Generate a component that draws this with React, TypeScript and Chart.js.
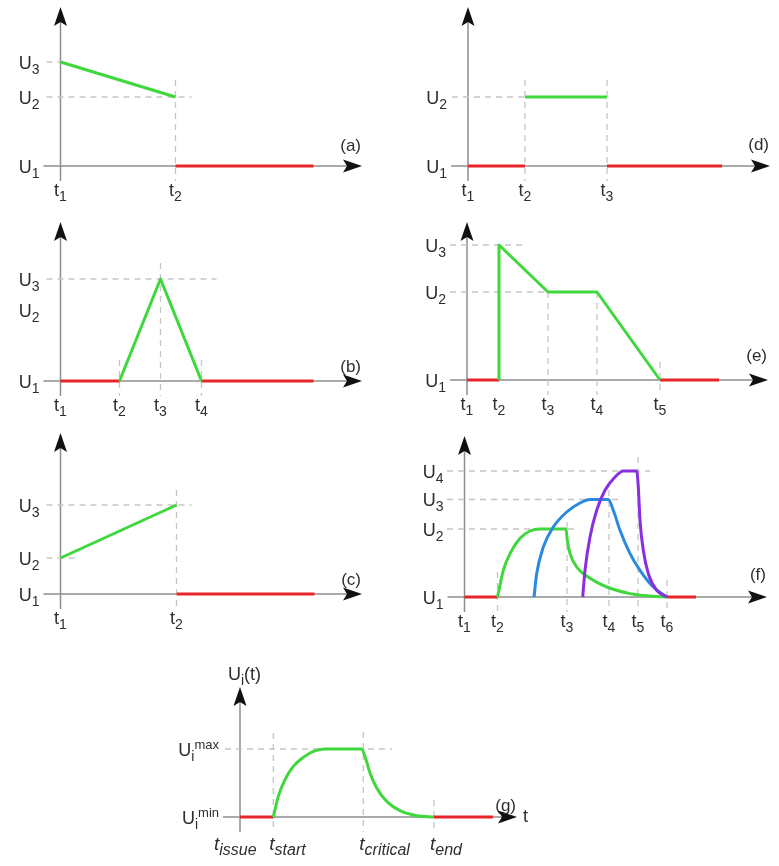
import React, { useEffect, useRef } from 'react';
import { Chart, registerables } from 'chart.js';

Chart.register(...registerables);

type P = [number, number];

// ---------- Panel (a) ----------
const A_TIMES = [0, 115];
const A_TIME_SUBS = ['1', '2'];
const A_LEVELS = [0, 69, 104];
const A_LEVEL_SUBS = ['1', '2', '3'];
const A_GREEN: P[] = [[0, 104], [115, 69]];
const A_RED: P[] = [[115, 0], [253, 0]];

// ---------- Panel (b) ----------
const B_TIMES = [0, 59, 100, 141];
const B_TIME_SUBS = ['1', '2', '3', '4'];
const B_LEVELS = [0, 71, 102];
const B_LEVEL_SUBS = ['1', '2', '3'];
const B_RED1: P[] = [[0, 0], [59, 0]];
const B_GREEN: P[] = [[59, 0], [100, 102], [141, 0]];
const B_RED2: P[] = [[141, 0], [253, 0]];

// ---------- Panel (c) ----------
const C_TIMES = [0, 116];
const C_TIME_SUBS = ['1', '2'];
const C_LEVELS = [0, 36, 89];
const C_LEVEL_SUBS = ['1', '2', '3'];
const C_GREEN: P[] = [[0, 36], [116, 89]];
const C_RED: P[] = [[116, 0], [254, 0]];

// ---------- Panel (d) ----------
const D_TIMES = [0, 57, 139];
const D_TIME_SUBS = ['1', '2', '3'];
const D_LEVELS = [0, 69];
const D_LEVEL_SUBS = ['1', '2'];
const D_RED1: P[] = [[0, 0], [57, 0]];
const D_GREEN: P[] = [[57, 69], [139, 69]];
const D_RED2: P[] = [[139, 0], [254, 0]];

// ---------- Panel (e) ----------
const E_TIMES = [0, 32, 81, 130, 193];
const E_TIME_SUBS = ['1', '2', '3', '4', '5'];
const E_LEVELS = [0, 88, 135];
const E_LEVEL_SUBS = ['1', '2', '3'];
const E_RED1: P[] = [[0, 0], [32, 0]];
const E_GREEN: P[] = [[32, 0], [32, 135], [81, 88], [130, 88], [193, 0]];
const E_RED2: P[] = [[193, 0], [252, 0]];

// ---------- Panel (f) ----------
const F_TIMES = [0, 33, 102.5, 144.5, 173.5, 202.5];
const F_TIME_SUBS = ['1', '2', '3', '4', '5', '6'];
const F_LEVELS = [0, 68, 97.5, 126];
const F_LEVEL_SUBS = ['1', '2', '3', '4'];
const F_RED1: P[] = [[0, 0], [33, 0]];
const F_RED2: P[] = [[202.5, 0], [231.5, 0]];
const F_GREEN: P[] = [
  [33, 0], [38.8, 26.7], [45.5, 43.4], [55.5, 58.7], [65.5, 66], [75.5, 68],
  [101.5, 68], [102.8, 56.7], [105.5, 43.7], [112.2, 30], [125.5, 18.7],
  [142.2, 10], [165.5, 3.4], [185.5, 1], [202.5, 0],
];
const F_BLUE: P[] = [
  [69.5, 0], [72.2, 23.4], [78.8, 50], [88.8, 70], [102.2, 85], [115.5, 94],
  [125.5, 97.5], [143.8, 97.5], [148.8, 86.7], [155.5, 66.7], [165.5, 43.4],
  [175.5, 26.7], [188.8, 10], [202.5, 0],
];
const F_PURPLE: P[] = [
  [118.2, 0], [120.5, 26.7], [125.5, 60], [132.2, 86.7], [140.5, 106.7],
  [150.5, 120], [158.8, 126], [172.2, 126], [173.8, 110], [175.5, 76.7],
  [178.8, 46.7], [183.8, 23.4], [192.2, 6.7], [202.5, 0],
];

// ---------- Panel (g) ----------
const G_TIMES = [0, 33.3, 123.3, 194];
const G_TIME_SUBS = ['issue', 'start', 'critical', 'end'];
const G_LEVELS = [0, 68];
const G_LEVEL_SUPS = ['min', 'max'];
const G_RED1: P[] = [[0, 0], [33.3, 0]];
const G_RED2: P[] = [[194, 0], [253, 0]];
const G_GREEN: P[] = [
  [33.3, 0], [38.3, 20.6], [45, 37.3], [53.3, 50.6], [63.3, 59.6], [73.3, 65.6],
  [85, 68], [121.7, 68], [125, 60.6], [130, 44], [136.7, 29], [146.7, 15.6],
  [160, 6.3], [176.7, 1.3], [194, 0],
];

// ---------- styling ----------
const FONT = '"Liberation Sans", Arial, sans-serif';
const TEXT = '#2e2e2e';
const GREEN = '#3fd83c';
const RED = '#e8242a';
const BLUE = '#2b8ae0';
const PURPLE = '#8a2fe0';
const AXIS = '#8e8e8e';
const GUIDE = '#c6c6c6';

type Lab = {
  base: string; sub?: string; sup?: string; italic?: boolean; dx?: number; dy?: number;
  align?: 'left' | 'center' | 'right';
};
type Series = { data: P[]; color: string; smooth?: boolean };
type PanelCfg = {
  box: { x: number; y: number; w: number; h: number };
  pad: { left: number; top: number; right: number; bottom: number };
  xMax: number;
  yMax: number;
  times: number[];
  timeLabels: Lab[];
  levels: number[];
  levelLabels: Lab[];
  series: Series[];
  hGuides: { y: number; x1: number; x2: number }[];
  vGuides: { x: number; top: number }[];
  tag: string;
  tagDy: number;
  extra?: boolean;
};

const tLab = (s: string): Lab => ({ base: 't', sub: s });
const uLab = (s: string): Lab => ({ base: 'U', sub: s });

function drawLabel(ctx: CanvasRenderingContext2D, lab: Lab, x: number, baseline: number, align: 'left' | 'center' | 'right') {
  const it = lab.italic ? 'italic ' : '';
  const parts: { t: string; f: string; dy: number; w?: number }[] = [
    { t: lab.base, f: `${it}${lab.italic ? 19 : 18}px ${FONT}`, dy: 0 },
  ];
  if (lab.sub) parts.push({ t: lab.sub, f: `${it}${lab.italic ? 16 : 14}px ${FONT}`, dy: 5 });
  if (lab.sup) parts.push({ t: lab.sup, f: `${it}13px ${FONT}`, dy: -7 });
  let total = 0;
  parts.forEach((p) => {
    ctx.font = p.f;
    p.w = ctx.measureText(p.t).width;
    total += p.w;
  });
  let cx = align === 'right' ? x - total : align === 'center' ? x - total / 2 : x;
  ctx.textAlign = 'left';
  ctx.textBaseline = 'alphabetic';
  parts.forEach((p) => {
    ctx.font = p.f;
    ctx.fillText(p.t, cx, baseline + p.dy);
    cx += p.w || 0;
  });
}

function makePlugin(cfg: PanelCfg) {
  return {
    id: 'panelDecor',
    beforeDatasetsDraw(chart: any) {
      const { ctx } = chart;
      const xs = chart.scales.x;
      const ys = chart.scales.y;
      const x0 = xs.getPixelForValue(0);
      const y0 = ys.getPixelForValue(0);
      const xt = xs.getPixelForValue(xs.max);
      const yt = ys.getPixelForValue(ys.max);
      ctx.save();
      ctx.strokeStyle = AXIS;
      ctx.lineWidth = 1.5;
      ctx.beginPath();
      ctx.moveTo(x0 - 17, y0);
      ctx.lineTo(xt - 12, y0);
      ctx.moveTo(x0, y0 + 15);
      ctx.lineTo(x0, yt + 12);
      ctx.stroke();
      ctx.fillStyle = '#111';
      ctx.beginPath();
      ctx.moveTo(xt, y0);
      ctx.lineTo(xt - 19, y0 - 6.5);
      ctx.lineTo(xt - 15, y0);
      ctx.lineTo(xt - 19, y0 + 6.5);
      ctx.closePath();
      ctx.fill();
      ctx.beginPath();
      ctx.moveTo(x0, yt);
      ctx.lineTo(x0 - 6.5, yt + 19);
      ctx.lineTo(x0, yt + 15);
      ctx.lineTo(x0 + 6.5, yt + 19);
      ctx.closePath();
      ctx.fill();
      ctx.restore();
    },
    afterDraw(chart: any) {
      const { ctx } = chart;
      const xs = chart.scales.x;
      const ys = chart.scales.y;
      const x0 = xs.getPixelForValue(0);
      const y0 = ys.getPixelForValue(0);
      const xt = xs.getPixelForValue(xs.max);
      const yt = ys.getPixelForValue(ys.max);
      ctx.save();
      ctx.fillStyle = TEXT;
      cfg.levels.forEach((v, i) => {
        const py = ys.getPixelForValue(v);
        drawLabel(ctx, cfg.levelLabels[i], x0 - 21, py + 6.5, 'right');
      });
      cfg.times.forEach((v, i) => {
        const lab = cfg.timeLabels[i];
        const px = xs.getPixelForValue(v);
        drawLabel(ctx, lab, px + (lab.dx || 0), y0 + (lab.dy || 30), lab.align || 'center');
      });
      ctx.font = `17px ${FONT}`;
      ctx.textAlign = 'right';
      ctx.textBaseline = 'middle';
      ctx.fillText(cfg.tag, xt - 1, y0 - cfg.tagDy);
      if (cfg.extra) {
        drawLabel(ctx, { base: 'U', sub: 'i' }, x0 - 12, yt - 7, 'left');
        ctx.font = `18px ${FONT}`;
        const a = ctx.measureText('U').width;
        ctx.font = `14px ${FONT}`;
        const b = ctx.measureText('i').width;
        ctx.font = `18px ${FONT}`;
        ctx.textAlign = 'left';
        ctx.textBaseline = 'alphabetic';
        ctx.fillText('(t)', x0 - 12 + a + b, yt - 7);
        ctx.textBaseline = 'middle';
        ctx.fillText('t', xt + 6, y0);
      }
      ctx.restore();
    },
  };
}

function buildConfig(cfg: PanelCfg): any {
  const toXY = (pts: P[]) => pts.map(([x, y]) => ({ x, y }));
  const guide = (pts: P[]) => ({
    data: toXY(pts),
    borderColor: GUIDE,
    borderWidth: 1.3,
    borderDash: [6, 5],
    pointRadius: 0,
    fill: false,
    tension: 0,
    order: 5,
    clip: false,
  });
  const datasets: any[] = [];
  cfg.series.forEach((s) =>
    datasets.push({
      data: toXY(s.data),
      borderColor: s.color,
      borderWidth: 3,
      pointRadius: 0,
      fill: false,
      tension: 0,
      cubicInterpolationMode: s.smooth ? 'monotone' : 'default',
      borderJoinStyle: 'round',
      order: 1,
      clip: false,
    })
  );
  cfg.hGuides.forEach((g) => datasets.push(guide([[g.x1, g.y], [g.x2, g.y]])));
  cfg.vGuides.forEach((g) => datasets.push(guide([[g.x, g.top], [g.x, -15]])));
  return {
    type: 'line',
    data: { datasets },
    options: {
      responsive: false,
      animation: false,
      events: [],
      layout: { padding: cfg.pad },
      scales: {
        x: { type: 'linear', min: 0, max: cfg.xMax, display: false },
        y: { type: 'linear', min: 0, max: cfg.yMax, display: false },
      },
      plugins: { legend: { display: false }, tooltip: { enabled: false } },
    },
    plugins: [makePlugin(cfg)],
  };
}

function frame(bx: number, by: number, bw: number, bh: number, ox: number, oy: number, xt: number, yt: number) {
  return {
    box: { x: bx, y: by, w: bw, h: bh },
    pad: { left: ox - bx, top: yt - by, right: bx + bw - xt, bottom: by + bh - oy },
    xMax: xt - ox,
    yMax: oy - yt,
  };
}

const PANELS: PanelCfg[] = [
  {
    ...frame(0, 0, 390, 205, 60.5, 166, 362, 7),
    times: A_TIMES,
    timeLabels: A_TIME_SUBS.map(tLab),
    levels: A_LEVELS,
    levelLabels: A_LEVEL_SUBS.map(uLab),
    series: [{ data: A_GREEN, color: GREEN }, { data: A_RED, color: RED }],
    hGuides: [{ y: A_LEVELS[1], x1: -14, x2: 131 }, { y: A_LEVELS[2], x1: -14, x2: 0 }],
    vGuides: [{ x: A_TIMES[1], top: 86 }],
    tag: '(a)',
    tagDy: 20,
  },
  {
    ...frame(400, 0, 379, 205, 468, 166, 770, 7),
    times: D_TIMES,
    timeLabels: D_TIME_SUBS.map(tLab),
    levels: D_LEVELS,
    levelLabels: D_LEVEL_SUBS.map(uLab),
    series: [{ data: D_GREEN, color: GREEN }, { data: D_RED1, color: RED }, { data: D_RED2, color: RED }],
    hGuides: [{ y: D_LEVELS[1], x1: -16, x2: D_TIMES[1] }],
    vGuides: [{ x: D_TIMES[1], top: 86 }, { x: D_TIMES[2], top: 86 }],
    tag: '(d)',
    tagDy: 21,
  },
  {
    ...frame(0, 210, 390, 210, 60.5, 381, 362, 222),
    times: B_TIMES,
    timeLabels: B_TIME_SUBS.map(tLab),
    levels: B_LEVELS,
    levelLabels: B_LEVEL_SUBS.map(uLab),
    series: [{ data: B_GREEN, color: GREEN }, { data: B_RED1, color: RED }, { data: B_RED2, color: RED }],
    hGuides: [{ y: B_LEVELS[2], x1: -14, x2: 156 }],
    vGuides: [{ x: B_TIMES[1], top: 21 }, { x: B_TIMES[2], top: 118 }, { x: B_TIMES[3], top: 21 }],
    tag: '(b)',
    tagDy: 14,
  },
  {
    ...frame(400, 210, 379, 210, 467, 380, 768, 222),
    times: E_TIMES,
    timeLabels: E_TIME_SUBS.map(tLab),
    levels: E_LEVELS,
    levelLabels: E_LEVEL_SUBS.map(uLab),
    series: [{ data: E_GREEN, color: GREEN }, { data: E_RED1, color: RED }, { data: E_RED2, color: RED }],
    hGuides: [{ y: E_LEVELS[2], x1: -17, x2: 58 }, { y: E_LEVELS[1], x1: -17, x2: E_TIMES[2] }],
    vGuides: [{ x: E_TIMES[2], top: E_LEVELS[1] }, { x: E_TIMES[3], top: E_LEVELS[1] }, { x: E_TIMES[4], top: 18 }],
    tag: '(e)',
    tagDy: 24,
  },
  {
    ...frame(0, 420, 390, 215, 60.5, 594, 362, 433),
    times: C_TIMES,
    timeLabels: C_TIME_SUBS.map(tLab),
    levels: C_LEVELS,
    levelLabels: C_LEVEL_SUBS.map(uLab),
    series: [{ data: C_GREEN, color: GREEN }, { data: C_RED, color: RED }],
    hGuides: [{ y: C_LEVELS[2], x1: -14, x2: 131 }, { y: C_LEVELS[1], x1: -14, x2: 16 }],
    vGuides: [{ x: C_TIMES[1], top: 104 }],
    tag: '(c)',
    tagDy: 14,
  },
  {
    ...frame(400, 420, 379, 215, 464.5, 597, 767, 436),
    times: F_TIMES,
    timeLabels: F_TIME_SUBS.map(tLab),
    levels: F_LEVELS,
    levelLabels: F_LEVEL_SUBS.map(uLab),
    series: [
      { data: F_PURPLE, color: PURPLE, smooth: true },
      { data: F_BLUE, color: BLUE, smooth: true },
      { data: F_GREEN, color: GREEN, smooth: true },
      { data: F_RED1, color: RED },
      { data: F_RED2, color: RED },
    ],
    hGuides: [
      { y: F_LEVELS[3], x1: -17.5, x2: 185.5 },
      { y: F_LEVELS[2], x1: -17.5, x2: 155.5 },
      { y: F_LEVELS[1], x1: -17.5, x2: 112.5 },
    ],
    vGuides: [
      { x: F_TIMES[1], top: 25 },
      { x: F_TIMES[2], top: 75 },
      { x: F_TIMES[3], top: 107 },
      { x: F_TIMES[4], top: 140 },
      { x: F_TIMES[5], top: 17 },
    ],
    tag: '(f)',
    tagDy: 22,
  },
  {
    ...frame(150, 640, 400, 226, 240, 817, 517, 687),
    times: G_TIMES,
    timeLabels: G_TIME_SUBS.map((s, i) => ({
      base: 't', sub: s, italic: true, align: 'left' as const, dx: i === 0 ? -26 : -4, dy: 33,
    })),
    levels: G_LEVELS,
    levelLabels: G_LEVEL_SUPS.map((s) => ({ base: 'U', sub: 'i', sup: s })),
    series: [{ data: G_GREEN, color: GREEN, smooth: true }, { data: G_RED1, color: RED }, { data: G_RED2, color: RED }],
    hGuides: [{ y: G_LEVELS[1], x1: -15, x2: 152 }],
    vGuides: [{ x: G_TIMES[1], top: 84 }, { x: G_TIMES[2], top: 85 }, { x: G_TIMES[3], top: 17 }],
    tag: '(g)',
    tagDy: 11,
    extra: true,
  },
];

function Panel({ cfg }: { cfg: PanelCfg }) {
  const ref = useRef<HTMLCanvasElement>(null);
  useEffect(() => {
    const chart = new Chart(ref.current as HTMLCanvasElement, buildConfig(cfg));
    return () => chart.destroy();
  }, [cfg]);
  return (
    <canvas
      ref={ref}
      width={cfg.box.w}
      height={cfg.box.h}
      style={{ position: 'absolute', left: cfg.box.x, top: cfg.box.y, width: cfg.box.w, height: cfg.box.h }}
    />
  );
}

export default function App() {
  return (
    <div style={{ position: 'absolute', left: 0, top: 0, width: 779, height: 866, background: '#fff', overflow: 'hidden' }}>
      {PANELS.map((p, i) => (
        <Panel key={i} cfg={p} />
      ))}
    </div>
  );
}
